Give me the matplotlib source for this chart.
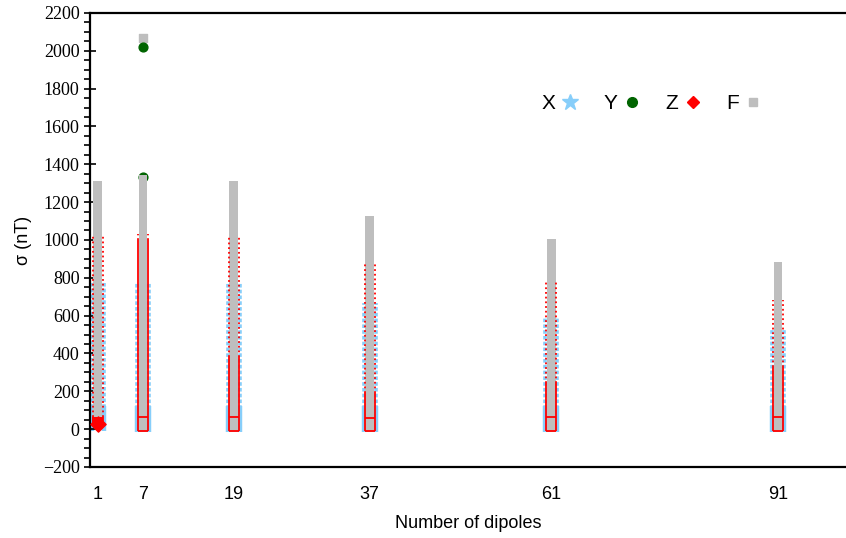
import matplotlib.pyplot as plt
from matplotlib.lines import Line2D
from matplotlib.ticker import MultipleLocator

# group positions (number of dipoles)
dipoles = [1, 7, 19, 37, 61, 91]

# F: grey bar (box + dense outliers)
f_low = [62, -15, -15, -15, -15, -15]
f_high = [1310, 1345, 1310, 1128, 1003, 884]
f_out_x = [7]
f_out_y = [2065]

# Z: box + dense outlier range
z_q1 = [20, -12, -12, -12, -12, -12]
z_q3 = [62, 62, 62, 60, 62, 62]
z_solid = [62, 1000, 380, 190, 243, 330]
z_top = [1028, 1030, 1028, 878, 778, 684]

# X: dense outlier range
x_low = [-10, -15, -15, -15, -15, -15]
x_top = [775, 775, 772, 667, 593, 524]

# Y: mostly hidden, a few visible outliers
y_out_x = [7, 7]
y_out_y = [2020, 1335]

x_col = '#87cefa'
y_col = '#006400'
z_col = '#ff0000'
f_col = '#bebebe'

serif = ['Liberation Serif', 'DejaVu Serif']

fig = plt.figure(figsize=(8.46, 5.38), dpi=100)
ax = fig.add_axes([0.1064, 0.132, 0.8936, 0.844])

# X haze
for x, lo, top in zip(dipoles, x_low, x_top):
    ax.vlines([x - 0.8, x + 0.8], lo, top, colors=x_col, lw=2.6,
              linestyles=(0, (1, 0.6)), zorder=1)
    ax.vlines([x - 0.8, x + 0.8], lo, min(top, 120), colors=x_col, lw=3.2, zorder=1)

# Y outliers (the lower one mostly hidden behind F)
ax.scatter(y_out_x, y_out_y, marker='o', s=40, color=y_col, zorder=1.5)

# F grey bars
ax.bar(dipoles, [h - l for h, l in zip(f_high, f_low)], bottom=f_low,
       width=1.15, color=f_col, zorder=2)
ax.scatter(f_out_x, f_out_y, marker='s', s=40, color=f_col, zorder=1.4)

# Z boxes and outlier columns
for i, x in enumerate(dipoles):
    sides = [x - 0.66, x + 0.66]
    ax.vlines(sides, z_solid[i], z_top[i], colors=z_col, lw=1.3,
              linestyles=(0, (1, 1.6)), zorder=3)
    ax.vlines(sides, z_q1[i], z_solid[i], colors=z_col, lw=1.3, zorder=3)
    if i == 0:
        ax.bar(x, z_q3[i] - z_q1[i], bottom=z_q1[i], width=1.4, color=z_col, zorder=3)
        ax.scatter([x], [z_q1[i] + 8], marker='D', s=60, color=z_col, zorder=3)
    else:
        ax.hlines([z_q1[i], z_q3[i]], x - 0.66, x + 0.66, colors=z_col, lw=1.3, zorder=3)

ax.set_xlim(0, 100)
ax.set_ylim(-200, 2200)

ax.spines['right'].set_visible(False)
for s in ['left', 'bottom', 'top']:
    ax.spines[s].set_linewidth(1.6)

ax.set_xticks(dipoles)
ax.set_xticklabels([str(d) for d in dipoles], family='Liberation Sans', fontsize=13)
ax.tick_params(axis='x', length=0, pad=14)

yt = list(range(-200, 2201, 200))
ax.set_yticks(yt)
ax.set_yticklabels(['\u2212' + str(-v) if v < 0 else str(v) for v in yt],
                   family=serif, fontsize=13)
ax.yaxis.set_minor_locator(MultipleLocator(50))
ax.tick_params(axis='y', which='major', direction='inout', length=8, width=1.2)
ax.tick_params(axis='y', which='minor', direction='out', length=4, width=1.2)

ax.set_xlabel('Number of dipoles', family='Liberation Sans', fontsize=13, labelpad=8)
ax.set_ylabel('σ (nT)', family='Liberation Sans', fontsize=13, labelpad=8)

handles = [
    Line2D([], [], ls='none', marker='*', color=x_col, markersize=12),
    Line2D([], [], ls='none', marker='o', color=y_col, markersize=7),
    Line2D([], [], ls='none', marker='D', color=z_col, markersize=6),
    Line2D([], [], ls='none', marker='s', color=f_col, markersize=6),
]
ax.legend(handles, ['X', 'Y', 'Z', 'F'], ncol=4, frameon=False, markerfirst=False,
          loc='center', bbox_to_anchor=(0.743, 0.80), handlelength=0.8,
          handletextpad=0.3, columnspacing=1.2, prop={'family': 'Liberation Sans', 'size': 15})

fig.savefig('out.png', dpi=100)
